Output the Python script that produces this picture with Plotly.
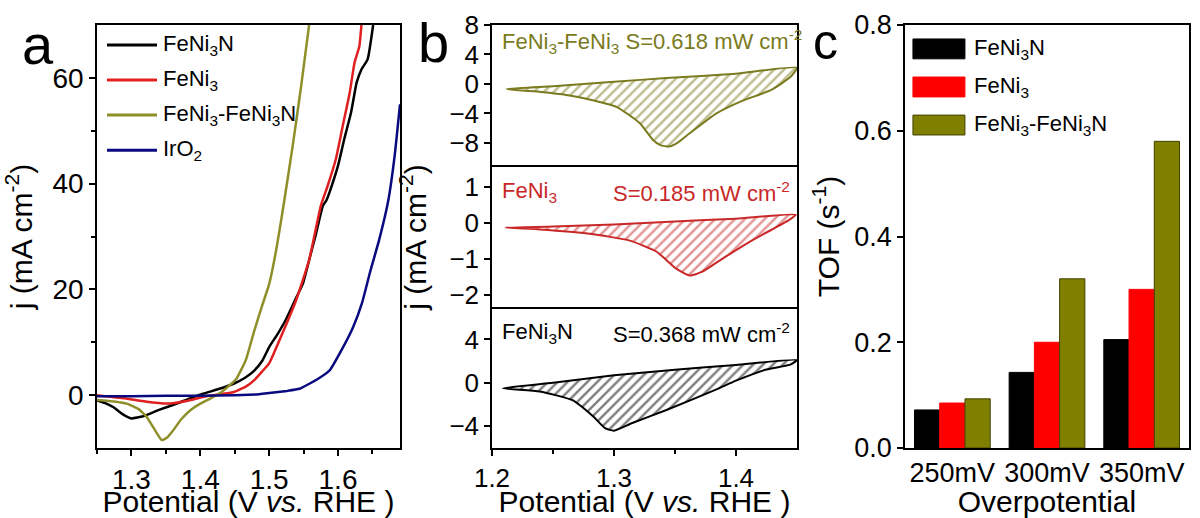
import plotly.graph_objects as go

FONT = "Liberation Sans"

# ---------------- Panel a: polarization curves ----------------
a_fenin_x = [1.25, 1.262, 1.274, 1.287, 1.30, 1.317, 1.34, 1.366, 1.385, 1.405, 1.428, 1.449, 1.465, 1.478, 1.49,
             1.50, 1.512, 1.524, 1.537, 1.549, 1.558, 1.568, 1.578, 1.583, 1.588, 1.60, 1.609, 1.619, 1.627,
             1.634, 1.643, 1.651]
a_fenin_y = [-1.0, -1.5, -2.3, -3.6, -4.4, -4.0, -2.8, -1.6, -0.6, 0.3, 1.2, 2.2, 3.3, 4.6, 6.5,
             9.1, 11.5, 14.2, 17.8, 21.1, 25.5, 30.5, 35.8, 36.8, 38.5, 43.4, 48.4, 53.5, 59.1,
             61.6, 63.5, 70.0]

a_feni3_x = [1.25, 1.29, 1.32, 1.351, 1.38, 1.405, 1.43, 1.449, 1.466, 1.478, 1.49, 1.50, 1.519, 1.539,
             1.558, 1.575, 1.585, 1.597, 1.607, 1.617, 1.624, 1.631, 1.634]
a_feni3_y = [0.0, -0.6, -1.2, -1.6, -1.1, -0.3, 0.2, 0.6, 1.6, 2.8, 4.5, 6.0, 11.6, 17.9,
             25.5, 35.8, 39.6, 44.7, 51.0, 57.2, 62.9, 66.0, 70.0]

a_hyb_x = [1.25, 1.275, 1.293, 1.31, 1.322, 1.335, 1.344, 1.352, 1.361, 1.372, 1.386, 1.40, 1.415, 1.43, 1.442,
           1.452, 1.466, 1.478, 1.49, 1.50, 1.511, 1.522, 1.534, 1.546, 1.558]
a_hyb_y = [-0.9, -1.2, -1.6, -2.6, -4.1, -6.8, -8.5, -8.0, -6.6, -4.6, -2.8, -1.6, -0.6, 0.5, 1.8,
           3.0, 6.6, 12.0, 17.0, 21.0, 28.0, 36.8, 47.0, 58.0, 70.0]

a_iro2_x = [1.25, 1.30, 1.35, 1.40, 1.45, 1.48, 1.50, 1.526, 1.544, 1.57, 1.588, 1.605, 1.622, 1.635,
            1.646, 1.66, 1.673, 1.682, 1.69]
a_iro2_y = [-0.2, -0.2, -0.1, -0.1, 0.0, 0.1, 0.4, 0.8, 1.2, 3.0, 4.7, 8.5, 12.9, 17.5,
            23.0, 29.5, 36.8, 45.0, 55.0]

a_names = ["FeNi<sub>3</sub>N", "FeNi<sub>3</sub>", "FeNi<sub>3</sub>-FeNi<sub>3</sub>N", "IrO<sub>2</sub>"]
a_colors = ["#000000", "#e02020", "#8f8f2a", "#0a0a80"]

# ---------------- Panel b: CV loops (closed) ----------------
b_hyb_x = [1.212, 1.25, 1.30, 1.343, 1.40, 1.45, 1.445, 1.429, 1.405, 1.384, 1.362, 1.352, 1.345, 1.338,
           1.332, 1.321, 1.302, 1.28, 1.261, 1.24, 1.212]
b_hyb_y = [-0.7, -0.3, 0.3, 0.8, 1.4, 2.2, 1.0, -0.8, -2.3, -4.0, -6.7, -8.0, -8.5, -8.3,
           -7.6, -5.3, -3.1, -2.1, -1.5, -1.1, -0.7]

b_feni3_x = [1.211, 1.25, 1.30, 1.35, 1.40, 1.449, 1.443, 1.416, 1.389, 1.372, 1.362, 1.351, 1.335,
             1.313, 1.28, 1.239, 1.211]
b_feni3_y = [-0.14, -0.11, -0.05, 0.03, 0.11, 0.22, 0.06, -0.44, -1.0, -1.37, -1.47, -1.28, -0.81,
             -0.5, -0.31, -0.19, -0.14]

b_fenin_x = [1.209, 1.25, 1.30, 1.35, 1.40, 1.45, 1.445, 1.424, 1.40, 1.384, 1.343, 1.315, 1.30, 1.293,
             1.283, 1.266, 1.239, 1.209]
b_fenin_y = [-0.5, 0.0, 0.7, 1.2, 1.65, 2.1, 1.7, 1.2, 0.2, -0.6, -2.5, -3.7, -4.4, -4.2,
             -3.1, -1.6, -0.8, -0.5]

b_labels_left = ["FeNi<sub>3</sub>-FeNi<sub>3</sub> S=0.618 mW cm<sup>-2</sup>", "FeNi<sub>3</sub>", "FeNi<sub>3</sub>N"]
b_labels_right = ["", "S=0.185 mW cm<sup>-2</sup>", "S=0.368 mW cm<sup>-2</sup>"]

# ---------------- Panel c: TOF bars ----------------
c_categories = ["250mV", "300mV", "350mV"]
c_fenin = [0.072, 0.143, 0.205]
c_feni3 = [0.085, 0.200, 0.300]
c_hyb = [0.093, 0.320, 0.580]
c_names = ["FeNi<sub>3</sub>N", "FeNi<sub>3</sub>", "FeNi<sub>3</sub>-FeNi<sub>3</sub>N"]
c_colors = ["#000000", "#ff0000", "#808000"]

# ---------------- geometry ----------------
W, H = 1200, 518
def px(x): return x / W
def py(y): return 1 - y / H

dom_a_x = [px(97), px(400)]
dom_y_full = [py(448), py(25)]
dom_b_x = [px(492), px(797)]
dom_b_top = [py(165), py(25)]
dom_b_mid = [py(309), py(165)]
dom_b_bot = [py(448), py(309)]
dom_c_x = [px(905), px(1189)]

fig = go.Figure()

for xs, ys, n, c in zip([a_fenin_x, a_feni3_x, a_hyb_x, a_iro2_x],
                        [a_fenin_y, a_feni3_y, a_hyb_y, a_iro2_y], a_names, a_colors):
    fig.add_trace(go.Scatter(x=xs, y=ys, mode="lines", name=n,
                             line=dict(color=c, width=2.5, shape="spline", smoothing=0.4),
                             xaxis="x", yaxis="y", showlegend=False))

b_sets = [(b_hyb_x, b_hyb_y, "#7a7a1e", "x4", "y4"),
          (b_feni3_x, b_feni3_y, "#c82828", "x3", "y3"),
          (b_fenin_x, b_fenin_y, "#000000", "x2", "y2")]
for (xs, ys, c, xa, ya), n in zip(b_sets, ["FeNi3-FeNi3N", "FeNi3", "FeNi3N"]):
    fig.add_trace(go.Scatter(x=xs, y=ys, mode="lines", name=n, fill="toself",
                             fillcolor="rgba(0,0,0,0)",
                             fillpattern=dict(shape="/", fgcolor=c, bgcolor="white", size=7, solidity=0.35),
                             line=dict(color=c, width=2, shape="spline", smoothing=0.5),
                             xaxis=xa, yaxis=ya, showlegend=False))

for vals, n, c in zip([c_fenin, c_feni3, c_hyb], c_names, c_colors):
    fig.add_trace(go.Bar(x=c_categories, y=vals, name=n,
                         marker=dict(color=c, line=dict(color="#404000" if c == "#808000" else c, width=1)),
                         xaxis="x5", yaxis="y5", showlegend=False))

tickfont_a = dict(family=FONT, size=28, color="black")
tickfont_b = dict(family=FONT, size=26, color="black")
tickfont_c = dict(family=FONT, size=27, color="black")
title_font = dict(family=FONT, size=30, color="black")
common = dict(showline=True, linecolor="black", linewidth=1.5, mirror=True, showgrid=False, zeroline=False,
              ticks="outside", ticklen=6, tickwidth=1.5, tickcolor="black", automargin=False)
minor_style = dict(ticks="outside", ticklen=4, tickcolor="black", tickwidth=1.5)

fig.update_layout(
    width=W, height=H, margin=dict(l=0, r=0, t=0, b=0),
    paper_bgcolor="white", plot_bgcolor="white",
    font=dict(family=FONT, color="black"),
    barmode="group", bargap=0.2, bargroupgap=0,
    xaxis=dict(domain=dom_a_x, anchor="y", range=[1.25, 1.69], tickvals=[1.3, 1.4, 1.5, 1.6],
               minor=dict(tickvals=[1.25, 1.35, 1.45, 1.55, 1.65], **minor_style),
               tickfont=tickfont_a, title=dict(text="Potential (V <i>vs.</i> RHE )", font=title_font, standoff=4), **common),
    yaxis=dict(domain=dom_y_full, anchor="x", range=[-10, 70], tickvals=[0, 20, 40, 60],
               minor=dict(tickvals=[10, 30, 50], **minor_style),
               tickfont=tickfont_a, title=dict(text="j (mA cm<sup>-2</sup>)", font=title_font, standoff=12), **common),
    xaxis2=dict(domain=dom_b_x, anchor="y2", range=[1.2, 1.45], tickvals=[1.2, 1.3, 1.4],
                minor=dict(tickvals=[1.25, 1.35], **minor_style),
                tickfont=tickfont_b, title=dict(text="Potential (V <i>vs.</i> RHE )", font=title_font, standoff=5), **common),
    yaxis2=dict(domain=dom_b_bot, anchor="x2", range=[-6, 6.8], tickvals=[-4, 0, 4], tickfont=tickfont_b, **common),
    xaxis3=dict(domain=dom_b_x, anchor="y3", range=[1.2, 1.45], matches="x2", showticklabels=False,
                **{**common, "ticks": "", "showline": False}),
    yaxis3=dict(domain=dom_b_mid, anchor="x3", range=[-2.4, 1.6], tickvals=[-2, -1, 0, 1], tickfont=tickfont_b,
                title=dict(text="j (mA cm<sup>-2</sup>)", font=title_font, standoff=14), **common),
    xaxis4=dict(domain=dom_b_x, anchor="y4", range=[1.2, 1.45], matches="x2", showticklabels=False,
                **{**common, "ticks": ""}),
    yaxis4=dict(domain=dom_b_top, anchor="x4", range=[-11, 8], tickvals=[-8, -4, 0, 4, 8], tickfont=tickfont_b, **common),
    xaxis5=dict(domain=dom_c_x, anchor="y5", tickfont=tickfont_c,
                title=dict(text="Overpotential", font=title_font, standoff=4), **{**common, "ticks": ""}),
    yaxis5=dict(domain=dom_y_full, anchor="x5", range=[0, 0.8], dtick=0.2, tickformat=".1f", tickfont=tickfont_c,
                title=dict(text="TOF (s<sup>-1</sup>)", font=title_font, standoff=6), **common),
)

# legend, panel a
leg_rows_a = [0.953, 0.870, 0.787, 0.704]
for n, c, yy in zip(a_names, a_colors, leg_rows_a):
    fig.add_shape(type="line", xref="x domain", yref="y domain", x0=0.033, x1=0.198, y0=yy, y1=yy,
                  line=dict(color=c, width=3))
    fig.add_annotation(xref="x domain", yref="y domain", x=0.212, y=yy, text=n, showarrow=False,
                       xanchor="left", yanchor="middle", font=dict(family=FONT, size=22, color="black"))

# legend, panel c
leg_rows_c = [(0.920, 0.967), (0.830, 0.877), (0.740, 0.787)]
for n, c, (y0, y1) in zip(c_names, c_colors, leg_rows_c):
    fig.add_shape(type="rect", xref="x5 domain", yref="y5 domain", x0=0.028, x1=0.211, y0=y0, y1=y1,
                  fillcolor=c, line=dict(color="#404000" if c == "#808000" else c, width=1))
    fig.add_annotation(xref="x5 domain", yref="y5 domain", x=0.235, y=(y0 + y1) / 2, text=n, showarrow=False,
                       xanchor="left", yanchor="middle", font=dict(family=FONT, size=22, color="black"))

# panel b labels
b_label_pos = [("x4", "y4", "#7a7a1e", 0.879), ("x3", "y3", "#c82828", 0.81), ("x2", "y2", "#000000", 0.827)]
for (xa, ya, c, yy), tl, tr in zip(b_label_pos, b_labels_left, b_labels_right):
    fig.add_annotation(xref=f"{xa} domain", yref=f"{ya} domain", x=0.025, y=yy, text=tl, showarrow=False,
                       xanchor="left", yanchor="middle", font=dict(family=FONT, size=22, color=c))
    if tr:
        fig.add_annotation(xref=f"{xa} domain", yref=f"{ya} domain", x=0.985, y=yy, text=tr, showarrow=False,
                           xanchor="right", yanchor="middle", font=dict(family=FONT, size=22, color=c))

# panel letters
for t, x, y, s in [("a", 38, 44, 56), ("b", 433, 42, 56), ("c", 825, 42, 50)]:
    fig.add_annotation(xref="paper", yref="paper", x=px(x), y=py(y), text=t, showarrow=False,
                       xanchor="center", yanchor="middle", font=dict(family=FONT, size=s, color="black"))

fig.write_html("out.html")
